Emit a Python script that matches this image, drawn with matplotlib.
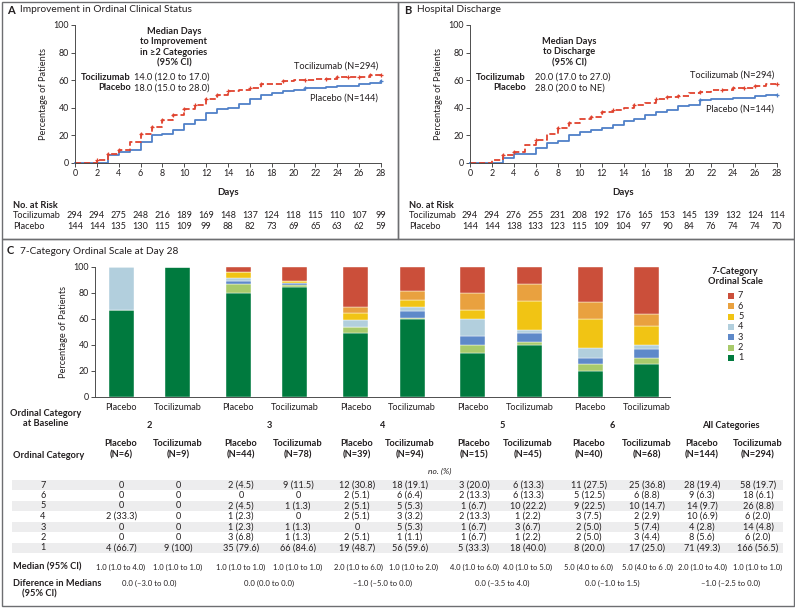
import numpy as np
import matplotlib
matplotlib.use('Agg')
import matplotlib.pyplot as plt
from matplotlib import transforms
from matplotlib.patches import Rectangle

plt.rcParams['font.family'] = ['Lato', 'DejaVu Sans']

# ---------------- DATA ----------------
days = list(range(29))
# Panel A: improvement in ordinal clinical status (cumulative %)
a_toci = [0, 0, 2, 6, 9, 15, 21, 26, 31, 35, 39, 42, 46, 49, 52, 52.5, 54, 57, 57, 59,
          60, 60, 61, 61, 62, 62, 62.5, 64, 64]
a_plac = [0, 0, 0, 5.5, 8, 9, 15, 20, 21, 24, 28, 31, 36, 39, 40, 42.5, 46, 49, 50.5, 52,
          53, 54, 54.5, 55, 55.5, 56, 57, 58, 59.5]
a_toci_cens = [2, 3, 4, 6, 7, 8, 9, 10, 11, 12, 13, 14, 16, 17, 19, 21, 23, 24, 25, 26, 27, 28]
a_plac_cens = [21, 28]
# Panel B: hospital discharge (cumulative %)
b_toci = [0, 0, 2, 5.5, 7.5, 12.5, 16.5, 21, 25, 28.5, 32, 33.5, 36.5, 38.5, 40, 42, 43.5,
          46, 47.5, 48.5, 50.5, 51, 52.5, 53, 54, 54.5, 55.5, 57, 57.5]
b_plac = [0, 0, 0, 3.5, 6, 6.5, 11, 14, 16, 20, 22.5, 24, 25.5, 27.5, 30, 32, 34.5, 37,
          38.5, 41, 42, 45.5, 46, 46.5, 47, 47, 48.5, 49.5, 49.5]
b_toci_cens = [3, 4, 6, 8, 9, 11, 12, 13, 15, 17, 18, 19, 21, 23, 24, 25, 26, 28]
b_plac_cens = [21, 28]

risk_days = list(range(0, 29, 2))
a_risk_toci = [294, 294, 275, 248, 216, 189, 169, 148, 137, 124, 118, 115, 110, 107, 99]
a_risk_plac = [144, 144, 135, 130, 115, 109, 99, 88, 82, 73, 69, 65, 63, 62, 59]
b_risk_toci = [294, 294, 276, 255, 231, 208, 192, 176, 165, 153, 145, 139, 132, 124, 114]
b_risk_plac = [144, 144, 138, 133, 123, 115, 109, 104, 97, 90, 84, 76, 74, 74, 70]

# Panel C: day-28 ordinal category (rows 7..1)
ordinal_rows = [7, 6, 5, 4, 3, 2, 1]
baseline_groups = ['2', '3', '4', '5', '6', 'All Categories']
arms = ['Placebo', 'Tocilizumab']
col_n = [6, 9, 44, 78, 39, 94, 15, 45, 40, 68, 144, 294]
col_counts = [
    [0, 0, 0, 2, 0, 0, 4],
    [0, 0, 0, 0, 0, 0, 9],
    [2, 0, 2, 1, 1, 3, 35],
    [9, 0, 1, 0, 1, 1, 66],
    [12, 2, 2, 2, 0, 2, 19],
    [18, 6, 5, 3, 5, 1, 56],
    [3, 2, 1, 2, 1, 1, 5],
    [6, 6, 10, 1, 3, 1, 18],
    [11, 5, 9, 3, 2, 2, 8],
    [25, 6, 10, 2, 5, 3, 17],
    [28, 9, 14, 10, 4, 8, 71],
    [58, 18, 26, 6, 14, 6, 166],
]
col_pcts = [
    [0, 0, 0, 33.3, 0, 0, 66.7],
    [0, 0, 0, 0, 0, 0, 100],
    [4.5, 0, 4.5, 2.3, 2.3, 6.8, 79.6],
    [11.5, 0, 1.3, 0, 1.3, 1.3, 84.6],
    [30.8, 5.1, 5.1, 5.1, 0, 5.1, 48.7],
    [19.1, 6.4, 5.3, 3.2, 5.3, 1.1, 59.6],
    [20.0, 13.3, 6.7, 13.3, 6.7, 6.7, 33.3],
    [13.3, 13.3, 22.2, 2.2, 6.7, 2.2, 40.0],
    [27.5, 12.5, 22.5, 7.5, 5.0, 5.0, 20.0],
    [36.8, 8.8, 14.7, 2.9, 7.4, 4.4, 25.0],
    [19.4, 6.3, 9.7, 6.9, 2.8, 5.6, 49.3],
    [19.7, 6.1, 8.8, 2.0, 4.8, 2.0, 56.5],
]
medians = ['1.0 (1.0 to 4.0)', '1.0 (1.0 to 1.0)', '1.0 (1.0 to 1.0)', '1.0 (1.0 to 1.0)',
           '2.0 (1.0 to 6.0)', '1.0 (1.0 to 2.0)', '4.0 (1.0 to 6.0)', '4.0 (1.0 to 5.0)',
           '5.0 (4.0 to 6.0)', '5.0 (4.0 to 6 .0)', '2.0 (1.0 to 4.0)', '1.0 (1.0 to 1.0)']
diffs = ['0.0 (\u20133.0 to 0.0)', '0.0 (0.0 to 0.0)', '\u20131.0 (\u20135.0 to 0.0)',
         '0.0 (\u20133.5 to 4.0)', '0.0 (\u20131.0 to 1.5)', '\u20131.0 (\u20132.5 to 0.0)']

cat_colors = {7: '#CB4F3A', 6: '#E9A13F', 5: '#F1C414', 4: '#B2CFDD',
              3: '#5E89C9', 2: '#A8CA6B', 1: '#007A3E'}

# ---------------- FIGURE ----------------
W, H = 795, 608
fig = plt.figure(figsize=(W / 100, H / 100), dpi=100)
ax0 = fig.add_axes([0, 0, 1, 1], zorder=0)
ax0.set_xlim(0, W)
ax0.set_ylim(H, 0)
ax0.axis('off')

TXT = '#231F20'
GRID = '#4D4D4D'
RED = '#E0432F'
BLUE = '#4F80C8'

FS = 6.6     # body text
FSB = 6.7    # bold headers


def T(x, y, s, size=FS, ha='center', va='center', weight='normal', **kw):
    ax0.text(x, y, s, fontsize=size, ha=ha, va=va, fontweight=weight, color=kw.pop('color', TXT), **kw)


def px_axes(x0, y0, x1, y1):
    a = fig.add_axes([x0 / W, 1 - y1 / H, (x1 - x0) / W, (y1 - y0) / H], zorder=2)
    a.set_facecolor('none')
    return a


# frames
for (x, y, w, h) in [(1.5, 1.5, 396.5, 237), (398, 1.5, 395.5, 237), (1.5, 238.5, 792, 367)]:
    ax0.add_patch(Rectangle((x, y), w, h, fill=False, ec='#6D6E71', lw=1.0))


def style_axes(ax):
    for s in ['top', 'right']:
        ax.spines[s].set_visible(False)
    for s in ['left', 'bottom']:
        ax.spines[s].set_color(GRID)
        ax.spines[s].set_linewidth(0.7)
    ax.tick_params(colors=GRID, labelcolor=TXT, labelsize=6.4, width=0.7, length=3, pad=1.5)


def km_panel(x0, x1, toci, plac, tc, pc):
    ax = px_axes(x0, 25, x1, 162.7)
    ax.step(days, plac, where='post', color=BLUE, lw=1.3, clip_on=False)
    ax.step(days, toci, where='post', color=RED, lw=1.3, ls=(0, (3.4, 1.6)), clip_on=False)
    ax.plot(tc, [toci[days.index(d)] for d in tc], '+', color=RED, ms=3.3, mew=0.9, clip_on=False)
    ax.plot(pc, [plac[days.index(d)] for d in pc], '+', color=BLUE, ms=3.3, mew=0.9, clip_on=False)
    ax.set_xlim(0, 28)
    ax.set_ylim(0, 100)
    ax.set_xticks(range(0, 29, 2))
    ax.set_yticks(range(0, 101, 20))
    style_axes(ax)
    return ax


axA = km_panel(75, 381, a_toci, a_plac, a_toci_cens, a_plac_cens)
axB = km_panel(470, 777, b_toci, b_plac, b_toci_cens, b_plac_cens)

for ax in (axA, axB):
    ax.set_ylabel('Percentage of Patients', fontsize=6.7, color=TXT, labelpad=4)
    ax.set_xlabel('Days', fontsize=6.9, color=TXT, fontweight='bold', labelpad=7)

T(7, 10, 'A', size=8, ha='left', weight='bold')
T(20, 10, 'Improvement in Ordinal Clinical Status', size=7.3, ha='left')
T(404, 10, 'B', size=8, ha='left', weight='bold')
T(417, 10, 'Hospital Discharge', size=7.3, ha='left')

# Panel A annotations
for i, s in enumerate(['Median Days', 'to Improvement', 'in \u22652 Categories', '(95% CI)']):
    T(174, 31 + i * 10.8, s, size=FSB, weight='bold')
T(131, 77, 'Tocilizumab', size=FSB, ha='right', weight='bold')
T(134, 77, '14.0 (12.0 to 17.0)', size=FSB, ha='left')
T(131, 88, 'Placebo', size=FSB, ha='right', weight='bold')
T(134, 88, '18.0 (15.0 to 28.0)', size=FSB, ha='left')
T(378, 66, 'Tocilizumab (N=294)', size=6.7, ha='right')
T(378, 98, 'Placebo (N=144)', size=6.7, ha='right')

# Panel B annotations
for i, s in enumerate(['Median Days', 'to Discharge', '(95% CI)']):
    T(569, 41 + i * 10.8, s, size=FSB, weight='bold')
T(526, 77, 'Tocilizumab', size=FSB, ha='right', weight='bold')
T(535, 77, '20.0 (17.0 to 27.0)', size=FSB, ha='left')
T(526, 88, 'Placebo', size=FSB, ha='right', weight='bold')
T(535, 88, '28.0 (20.0 to NE)', size=FSB, ha='left')
T(774, 75, 'Tocilizumab (N=294)', size=6.7, ha='right')
T(774, 109, 'Placebo (N=144)', size=6.7, ha='right')

# risk tables
for ax, lx, rt, rp in [(axA, 13, a_risk_toci, a_risk_plac), (axB, 409, b_risk_toci, b_risk_plac)]:
    T(lx, 205, 'No. at Risk', size=FSB, ha='left', weight='bold')
    T(lx, 216, 'Tocilizumab', size=FS, ha='left')
    T(lx, 226.5, 'Placebo', size=FS, ha='left')
    tr = transforms.blended_transform_factory(ax.transData, ax0.transData)
    for d, v1, v2 in zip(risk_days, rt, rp):
        ax0.text(d, 216, str(v1), transform=tr, fontsize=FS, ha='center', va='center', color=TXT)
        ax0.text(d, 226.5, str(v2), transform=tr, fontsize=FS, ha='center', va='center', color=TXT)

# ---------------- Panel C ----------------
T(7, 251, 'C', size=8, ha='left', weight='bold')
T(20, 251, '7-Category Ordinal Scale at Day 28', size=7.3, ha='left')

axC = px_axes(95, 266.5, 670, 396.7)
pair_off = 0.482
bar_w = 0.213
xpos, xlabels = [], []
for g in range(5):
    for a in range(2):
        ci = 2 * g + a
        x = g + a * pair_off
        xpos.append(x)
        xlabels.append(arms[a])
        bottom = 0
        for r in reversed(range(7)):
            v = col_pcts[ci][r]
            axC.bar(x, v, bottom=bottom, width=bar_w, color=cat_colors[ordinal_rows[r]],
                    edgecolor='white', linewidth=0.3)
            bottom += v
axC.set_xlim(-0.222, 4.68)
axC.set_ylim(0, 100)
axC.set_yticks(range(0, 101, 20))
axC.set_xticks(xpos)
axC.set_xticklabels(xlabels)
style_axes(axC)
axC.tick_params(axis='x', length=0, pad=4.5, labelsize=FS)
axC.set_ylabel('Percentage of Patients', fontsize=6.7, color=TXT, labelpad=4)

# legend
T(735, 271, '7-Category', size=FSB, weight='bold')
T(735, 282, 'Ordinal Scale', size=FSB, weight='bold')
for i, c in enumerate(ordinal_rows):
    y = 296 + i * 10.3
    ax0.add_patch(Rectangle((728, y - 3), 6, 6, color=cat_colors[c], lw=0))
    T(738, y, str(c), size=FS, ha='left')

# table
col_x = [121, 178, 241, 298, 357, 410, 474, 528, 589, 647, 702, 758]
med_x = [121, 178, 241, 298, 359, 414, 474, 528, 589, 647, 702, 758]
grp_x = [149.5, 269.5, 383, 502, 612, 731]
T(46, 413, 'Ordinal Category', size=FSB, weight='bold')
T(46, 423.5, 'at Baseline', size=FSB, weight='bold')
for gx, g in zip(grp_x, baseline_groups):
    T(gx, 425, g, size=FSB, weight='bold')
T(13, 455, 'Ordinal Category', size=FSB, ha='left', weight='bold')
for cx, n, ci in zip(col_x, col_n, range(12)):
    T(cx, 444, arms[ci % 2], size=FSB, weight='bold')
    T(cx, 455, '(N=%d)' % n, size=FSB, weight='bold')
T(440, 471, 'no. (%)', size=6.0, style='italic')

row_y0 = 485
row_h = 10.5
for ri, r in enumerate(ordinal_rows):
    y = row_y0 + ri * row_h
    if ri % 2 == 0:
        ax0.add_patch(Rectangle((12, y - row_h / 2), 771, row_h, color='#EDEDEE', lw=0, zorder=0))
    T(43, y, str(r), size=FS)
    for cx, cnt, pc in zip(col_x, col_counts, col_pcts):
        c, p = cnt[ri], pc[ri]
        if c == 0:
            s = '0'
        elif p == 100:
            s = '%d (100)' % c
        else:
            s = '%d (%.1f)' % (c, p)
        T(cx, y, s, size=FS)

T(13, 567, 'Median (95% CI)', size=FSB, ha='left', weight='bold')
for cx, s in zip(med_x, medians):
    T(cx, 567, s, size=5.5)
T(13, 583, 'Diference in Medians', size=FSB, ha='left', weight='bold')
T(22, 594, '(95% CI)', size=FSB, ha='left', weight='bold')
for gx, s in zip(grp_x, diffs):
    T(gx, 583, s, size=5.6)

fig.savefig('out.png', dpi=100)
